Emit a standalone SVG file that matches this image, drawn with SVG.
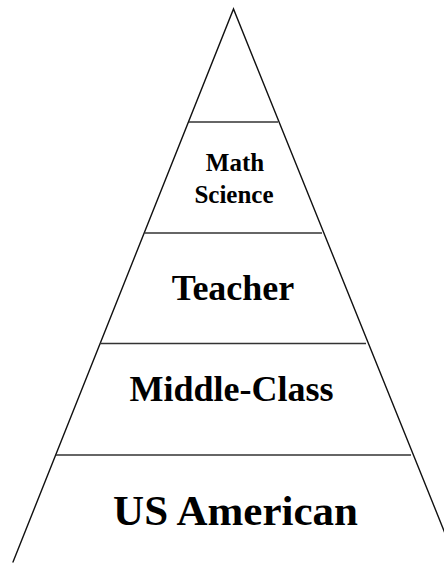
<svg xmlns="http://www.w3.org/2000/svg" width="444" height="563" viewBox="0 0 444 563">
<style>
.edge{stroke:#111;stroke-width:1.4;fill:none;stroke-linecap:round}
.div{stroke:#333;stroke-width:1.4;fill:none}
.lbl{font-family:"Liberation Serif","Times New Roman",serif;font-weight:bold;fill:#000;text-anchor:middle}
</style>
<rect width="444" height="563" fill="#fff"/>
<g id="pyramid-outline">
<path class="edge" d="M13,562 L233.5,9 L457,563"/>
</g>
<g id="dividers">
<line class="div" x1="189" y1="122" x2="278" y2="122"/>
<line class="div" x1="144.5" y1="233" x2="322" y2="233"/>
<line class="div" x1="100" y1="343.5" x2="366" y2="343.5"/>
<line class="div" x1="56" y1="455" x2="411" y2="455"/>
</g>
<g id="layer-math-science">
<text class="lbl" x="235" y="171" font-size="25">Math</text>
<text class="lbl" x="234" y="203" font-size="25">Science</text>
</g>
<g id="layer-teacher">
<text class="lbl" x="233" y="300" font-size="36">Teacher</text>
</g>
<g id="layer-middle-class">
<text class="lbl" x="231.5" y="401" font-size="36">Middle-Class</text>
</g>
<g id="layer-us-american">
<text class="lbl" x="235.5" y="525" font-size="43">US American</text>
</g>
</svg>
